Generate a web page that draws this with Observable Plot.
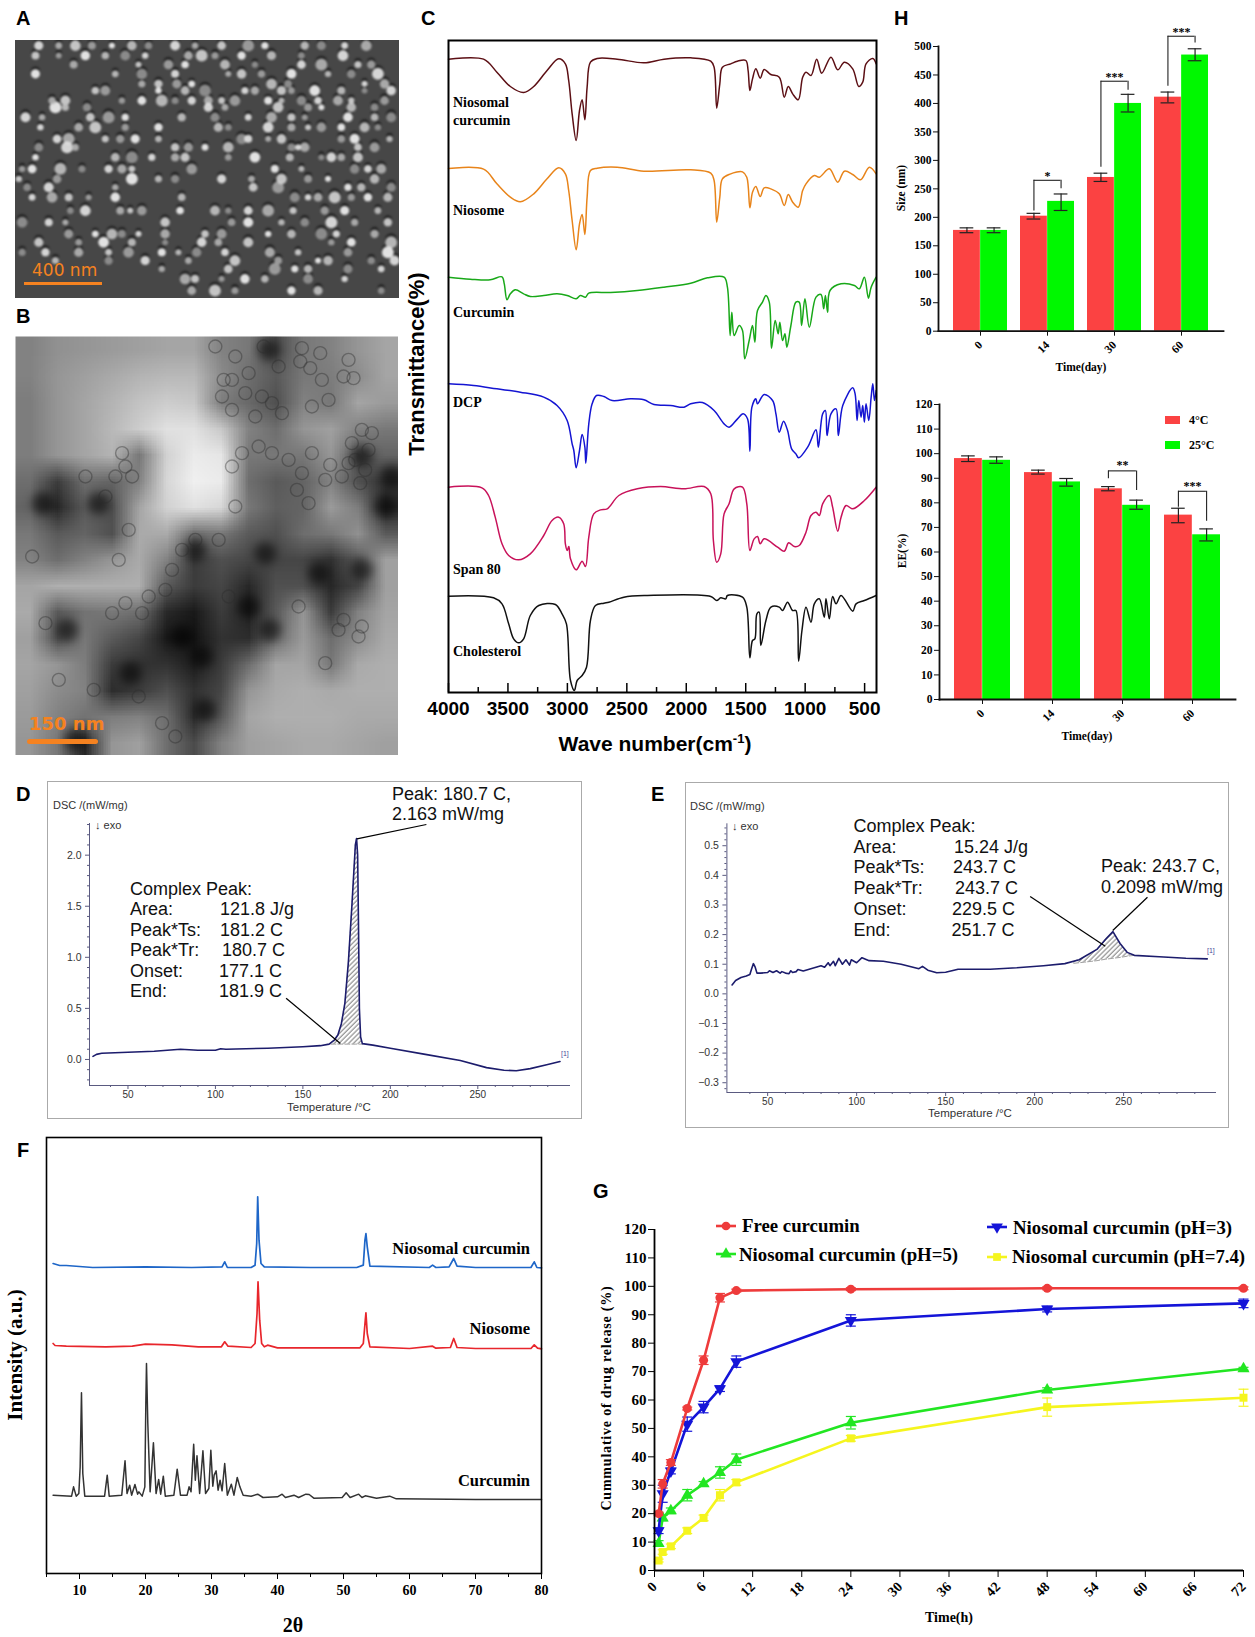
<!DOCTYPE html>
<html>
<head>
<meta charset="utf-8">
<script src="https://cdn.jsdelivr.net/npm/d3@7"></script>
<script src="https://cdn.jsdelivr.net/npm/@observablehq/plot@0.6"></script>
<style>
  body { margin: 0; background: white; }
  #fig { position: relative; width: 1255px; height: 1637px; overflow: hidden; background: white; }
  #fig svg { position: absolute; overflow: visible; }
  .note { position: absolute; white-space: pre; line-height: 1; }
</style>
</head>
<body>
<div id="fig"></div>
<script>
const SERIF = "Liberation Serif";
const SANS = "Liberation Sans";

// --- A: bright particles, [row, [columns]]
const semRows = [
  [15, [70,130,180,230,290,350,400,480,540,620,700,750,870,920,990,1055]],
  [45, [60,130,210,270,330,390,520,560,600,680,770,860,985]],
  [72, [175,370,460,510,630,720,860,920,1030,1070]],
  [100, [60,300,380,480,640,680,740,830,940,1010,1090]],
  [130, [380,430,485,530,770,820,1050,1110]],
  [150, [240,270,430,510,570,690,720,800,830,900,980,1050,1130]],
  [180, [110,150,320,380,440,480,530,580,620,660,760,800,860,910,970,1010,1110]],
  [200, [120,150,215,580,630,790,880,920,1010,1080]],
  [230, [30,80,225,280,330,500,600,700,770,830,870,1000,1080,1130]],
  [260, [75,190,240,330,430,610,640,760,830,880,920,980,1050,1090]],
  [295, [125,160,270,315,360,430,680,700,760,800,980,1020,1125]],
  [320, [70,155,180,480,520,570,640,830,850,870,1030,1080]],
  [350, [60,300,350,410,480,510,640,720,825,920,950,980,1030]],
  [385, [20,50,135,200,280,320,350,530,780,860,1020,1060,1100]],
  [415, [10,125,350,430,480,620,710,800,880,940,1080]],
  [440, [35,100,300,715,790,1000,1040,1130]],
  [470, [50,110,160,220,300,500,840,880,910,960,1010,1060,1120]],
  [510, [165,210,315,345,380,495,600,640,700,760,835,930,990,1090]],
  [545, [20,100,150,450,650,700,800,870,950,1020,1120]],
  [580, [160,240,290,320,370,450,570,620,760,830,920,965,1080]],
  [605, [70,190,265,350,450,560,610,700,950,1010,1130]],
  [635, [20,90,190,280,340,440,490,545,630,765,850,1000,1120]],
  [660, [120,280,390,520,660,790,910,940,1070,1140]],
  [685, [440,640,780,840,880,1000,1100]],
  [715, [510,540,620,690,750,880,990]],
  [750, [530,600,660,830,910,1100]]
];
const semSizes = [4.6,3.4,5.4,4,3,4.8,3.8,5,3.2,4.4,6,3.6,4.2];
const semShades = ["#e4e4e4","#b4b4b4","#d2d2d2","#a4a4a4","#f2f2f2","#c2c2c2","#949494"];

// --- B: coarse gray levels of the TEM image (14 columns, 16 rows), dark cores and vesicle rings
const temCols = 14, temRowsCount = 16;
const temGray = [
  130,145,150,155,160,165,165,130,120,75,120,130,150,165,
  130,150,160,170,180,185,185,140,110,90,120,125,140,165,
  125,150,165,180,195,205,200,125,105,80,130,120,165,155,
  125,150,165,185,205,225,225,200,130,110,150,160,130,120,
  125,150,165,180,120,210,235,230,120,120,120,150,90,100,
  110,60,110,100,130,215,240,235,110,90,100,130,80,50,
  100,40,90,80,165,210,225,215,120,95,100,155,125,40,
  120,90,100,80,170,170,110,120,90,80,110,120,145,90,
  130,110,130,150,170,130,60,80,70,70,70,50,90,160,
  165,175,175,175,175,90,60,70,40,80,80,40,70,160,
  170,90,115,120,110,40,25,60,35,90,150,60,130,165,
  160,80,120,90,70,25,20,50,45,110,155,110,140,170,
  165,150,125,60,50,50,30,60,110,165,165,120,170,175,
  160,140,130,45,60,80,50,70,150,170,175,170,175,175,
  155,130,115,125,130,110,45,90,165,175,175,175,170,170,
  150,120,40,150,160,110,75,130,160,165,170,170,165,160
];
const temDarkCores = [
  [82,500],[500,900],[560,960],[345,1010],[700,810],[765,880],[910,710],[1130,420],[1110,510],
  [180,1210],[570,1120],[540,640],[750,650],[250,500],[760,40],[1040,360],[155,880],[1040,700]
];
const temRings = [
  [600,30],[625,130],[650,130],[620,180],[660,60],[700,110],[790,90],[745,30],[770,200],[800,230],[740,180],[720,240],[690,170],[650,220],
  [860,35],[855,75],[885,95],[915,50],[1000,70],[985,120],[1015,125],[890,210],[940,190],[920,130],
  [1040,280],[1010,320],[1060,340],[1020,370],[945,385],[930,430],[980,420],[1035,440],[890,350],[1070,290],[1000,380],[1050,400],
  [680,350],[650,390],[770,350],[820,370],[860,410],[880,500],[660,510],[730,330],[845,460],
  [320,350],[350,420],[300,420],[340,580],[310,670],[50,660],[330,390],[270,480],[210,420],
  [540,610],[610,610],[470,700],[330,800],[400,780],[850,810],[970,880],[1040,870],[90,860],[130,1030],[235,1060],[370,1080],
  [500,640],[450,760],[640,780],[290,830],[380,830],[985,850],[930,980],[1030,900],[440,1160],[480,1200]
];

// --- C: FTIR traces, [wave number, transmittance in a.u.]
const ftirNiosomalCurcumin = [[4000,1900],[3705,1900],[3593,1861],[3480,1818],[3368,1800],[3283,1818],[3171,1866],[3073,1901],[3017,1886],[2989,1836],[2960,1736],[2926,1656],[2898,1746],[2876,1778],[2853,1718],[2834,1816],[2806,1891],[2750,1902],[2581,1900],[2356,1889],[2187,1900],[1963,1904],[1794,1894],[1766,1876],[1744,1753],[1718,1826],[1696,1876],[1626,1886],[1570,1894],[1499,1896],[1480,1866],[1465,1806],[1443,1841],[1415,1871],[1378,1843],[1345,1869],[1289,1854],[1218,1846],[1176,1786],[1142,1818],[1105,1796],[1058,1778],[1021,1846],[993,1861],[951,1851],[903,1900],[861,1858],[783,1906],[726,1868],[670,1891],[600,1871],[549,1818],[516,1831],[488,1886],[431,1902],[403,1886]];
const ftirNiosome = [[4000,1572],[3705,1570],[3593,1526],[3480,1486],[3396,1472],[3283,1496],[3171,1541],[3073,1574],[3017,1556],[2989,1506],[2960,1416],[2926,1328],[2898,1406],[2876,1434],[2853,1374],[2834,1486],[2806,1566],[2750,1573],[2581,1576],[2356,1564],[1963,1568],[1794,1558],[1766,1536],[1744,1411],[1718,1486],[1696,1541],[1626,1556],[1583,1561],[1527,1562],[1491,1546],[1465,1454],[1443,1501],[1415,1518],[1378,1488],[1345,1514],[1289,1511],[1218,1496],[1176,1461],[1142,1494],[1105,1471],[1058,1456],[1021,1506],[993,1526],[923,1551],[881,1546],[797,1571],[726,1531],[670,1564],[600,1554],[535,1538],[460,1576],[403,1556]];
const ftirCurcumin = [[4000,1246],[3817,1240],[3649,1238],[3550,1247],[3531,1226],[3508,1178],[3480,1196],[3438,1208],[3368,1196],[3312,1188],[3199,1191],[3087,1196],[3002,1191],[2926,1181],[2890,1191],[2848,1186],[2820,1198],[2637,1200],[2412,1206],[2188,1216],[1963,1228],[1822,1244],[1682,1246],[1654,1216],[1631,1071],[1617,1141],[1597,1071],[1555,1101],[1527,1086],[1508,1001],[1471,1056],[1443,1101],[1423,1051],[1401,1146],[1359,1171],[1330,1191],[1302,1171],[1283,1033],[1252,1116],[1227,1076],[1213,1111],[1190,1056],[1170,1076],[1154,1036],[1120,1101],[1078,1171],[1050,1171],[1030,1101],[1002,1181],[965,1096],[909,1186],[867,1194],[844,1151],[830,1191],[811,1141],[791,1206],[698,1226],[586,1221],[544,1211],[502,1246],[468,1183],[445,1216],[403,1246]];
const ftirDCP = [[4000,926],[3789,921],[3593,911],[3396,901],[3199,886],[3087,861],[3002,816],[2960,746],[2946,726],[2926,674],[2898,726],[2876,774],[2853,736],[2845,688],[2820,806],[2792,866],[2755,891],[2693,888],[2623,876],[2469,881],[2356,878],[2272,864],[2131,861],[2019,856],[1963,866],[1864,870],[1766,846],[1682,806],[1640,796],[1569,821],[1522,836],[1485,821],[1465,724],[1448,856],[1415,881],[1401,866],[1345,894],[1274,876],[1246,836],[1218,781],[1182,814],[1148,786],[1114,731],[1078,716],[1055,704],[979,736],[909,788],[889,736],[853,836],[830,846],[816,771],[783,836],[740,851],[721,771],[684,861],[600,914],[580,896],[563,816],[549,876],[530,826],[516,861],[502,811],[488,866],[465,816],[445,886],[431,926],[417,876],[403,906]];
const ftirSpan80 = [[4000,616],[3719,614],[3663,591],[3607,526],[3550,446],[3494,411],[3410,398],[3312,416],[3199,471],[3129,516],[3073,526],[3031,506],[3017,446],[3002,426],[2988,438],[2974,401],[2926,368],[2876,394],[2848,378],[2820,466],[2778,536],[2721,548],[2665,551],[2567,591],[2412,611],[2216,618],[2019,611],[1850,618],[1794,596],[1772,456],[1744,391],[1710,416],[1682,536],[1640,566],[1597,611],[1527,616],[1491,566],[1465,426],[1429,461],[1401,468],[1378,446],[1345,461],[1232,436],[1176,424],[1139,449],[1092,438],[1050,441],[993,481],[951,531],[909,541],[881,531],[853,566],[797,591],[769,556],[726,484],[698,526],[656,561],[600,551],[502,576],[403,616]];
const ftirCholesterol = [[4000,289],[3621,284],[3550,266],[3494,206],[3452,161],[3410,149],[3368,161],[3312,231],[3241,261],[3101,264],[3045,236],[3008,206],[2974,36],[2941,6],[2918,36],[2876,51],[2839,76],[2806,216],[2764,261],[2693,268],[2651,271],[2525,286],[2328,291],[1794,288],[1744,276],[1710,284],[1668,281],[1654,291],[1527,286],[1491,256],[1465,104],[1443,156],[1423,161],[1406,236],[1387,241],[1373,141],[1330,216],[1288,256],[1218,256],[1190,246],[1148,271],[1106,246],[1078,246],[1055,94],[1027,186],[993,256],[951,211],[923,266],[881,281],[839,226],[825,281],[797,221],[769,288],[740,266],[698,291],[600,244],[572,266],[502,276],[403,291]];
const ftirMajorTicks = [4000,3500,3000,2500,2000,1500,1000,500];
const ftirMinorTicks = [3750,3250,2750,2250,1750,1250,750];

// --- D and E: DSC traces, [temperature, heat flow], and hatched peak as [temperature, flow, baseline]
const dscCurveD = [[30,0.03],[32,0.05],[35,0.06],[50,0.07],[65,0.08],[80,0.1],[90,0.09],[100,0.09],[103,0.105],[106,0.1],[130,0.11],[150,0.125],[160,0.135],[165,0.15],[168,0.19],[170,0.24],[172,0.35],[174,0.55],[176,0.95],[178,1.5],[180,2.1],[180.7,2.163],[181.3,2],[181.8,1.3],[182.3,0.5],[183,0.22],[184,0.155],[190,0.14],[200,0.11],[220,0.05],[240,-0.01],[255,-0.08],[265,-0.105],[272,-0.11],[280,-0.09],[290,-0.05],[297,-0.02]];
const dscPeakD = [[166,0.16,0.15],[168,0.19,0.15],[170,0.24,0.15],[172,0.35,0.15],[174,0.55,0.15],[176,0.95,0.15],[178,1.5,0.15],[180,2.1,0.15],[180.7,2.163,0.15],[181.3,2,0.15],[181.8,1.3,0.15],[182.3,0.5,0.15],[183,0.22,0.15],[184,0.155,0.15]];
const dscCurveE = [[30,0.03],[32,0.045],[35,0.055],[38,0.06],[40,0.065],[41,0.085],[42,0.102],[43,0.09],[44,0.07],[46,0.07],[50,0.072],[51,0.078],[53,0.072],[55,0.078],[57,0.07],[58,0.075],[60,0.07],[62,0.068],[63,0.078],[64,0.072],[66,0.075],[67,0.082],[70,0.077],[80,0.095],[82,0.09],[84,0.105],[85,0.095],[87,0.11],[88,0.095],[90,0.12],[92,0.1],[94,0.115],[96,0.097],[97,0.115],[100,0.105],[103,0.122],[107,0.112],[115,0.11],[125,0.1],[135,0.085],[137,0.093],[140,0.08],[145,0.071],[150,0.073],[157,0.083],[175,0.083],[190,0.088],[205,0.095],[217,0.102],[225,0.115],[235,0.15],[240,0.185],[244,0.21],[248,0.17],[252,0.14],[256,0.13],[270,0.125],[285,0.12],[297,0.118]];
const dscPeakE = [[222,0.108,0.103],[228,0.125,0.107],[235,0.15,0.112],[240,0.185,0.117],[244,0.21,0.12],[248,0.17,0.123],[252,0.14,0.127],[256,0.13,0.13]];
const calloutsD = [[180.9,2.16,220.6,2.3],[140.4,0.6,171.4,0.157]];
const calloutsE = [[197.5,0.329,239.7,0.161],[263.4,0.326,243.9,0.214]];

// --- F: XRD patterns, [2 theta, intensity in a.u.]
const xrdNiosomalCurcumin = [[6,930],[7,924],[8,924],[12,918],[20,920],[27,918],[31.6,920],[32,935],[32.4,918],[36,918],[36.6,925],[36.85,990],[37,1130],[37.2,1000],[37.5,930],[38,920],[45,918],[52,918],[53,925],[53.25,1000],[53.4,1020],[53.6,980],[54,922],[63,918],[63.5,925],[64,918],[66,920],[66.7,945],[67.2,922],[70,918],[78.4,918],[78.9,935],[79.3,918],[80,917]];
const xrdNiosome = [[6,690],[6.3,684],[8,682],[14,680],[18,682],[20,688],[24,686],[28,680],[31.5,680],[32,695],[32.5,682],[36,678],[36.6,690],[36.9,780],[37.05,875],[37.3,760],[37.6,690],[38,680],[38.5,685],[40,677],[52.5,677],[53,690],[53.3,760],[53.4,782],[53.6,720],[54,680],[60,675],[63.5,682],[64,676],[66.2,678],[66.7,705],[67.2,678],[70,675],[78.4,675],[78.9,686],[79.4,676],[80,674]];
const xrdCurcumin = [[6,235],[8.8,232],[9.1,260],[9.5,232],[9.9,240],[10.1,320],[10.3,542],[10.5,300],[10.8,232],[13.8,232],[14.2,295],[14.5,232],[16.4,235],[16.9,338],[17.2,240],[17.6,265],[17.9,235],[18.4,267],[18.8,238],[19,245],[19.5,232],[19.9,260],[20.05,510],[20.15,630],[20.35,450],[20.7,245],[21.2,392],[21.6,240],[22,282],[22.3,238],[22.7,292],[23,232],[24.3,235],[24.8,313],[25.3,235],[26.3,235],[26.6,260],[26.9,245],[27.3,388],[27.55,280],[27.8,353],[28.2,240],[28.7,368],[29.1,240],[29.6,255],[29.9,370],[30.2,262],[30.4,295],[30.7,308],[31,250],[31.3,280],[31.6,248],[32,330],[32.4,235],[33,268],[33.4,235],[33.9,288],[34.3,260],[34.8,235],[36,232],[37,238],[37.8,228],[40,230],[40.7,238],[41.2,228],[42.5,235],[43.2,228],[44.3,238],[44.8,237],[45.5,226],[49.8,228],[50.4,242],[51,228],[52.3,238],[52.8,228],[53.3,233],[55,226],[57,232],[58,224],[70,222],[80,222]];
const xrdMajorTicks = [10,20,30,40,50,60,70,80];
const xrdMinorTicks = [5,15,25,35,45,55,65,75];

// --- G: release profile
const releaseHours = [0.5,1,2,4,6,8,10,24,48,72];
const releaseFree = [20,30.5,38,57,74,96,98.5,99,99.3,99.3];
const releaseFreeErr = [0.5,1.5,1,0.5,1.5,1.5,0.5,0.5,0.5,0.5];
const releasePH3 = [14,27,35,51.5,57.5,64,73.5,88,92,94];
const releasePH3Err = [1,3,1,2.5,2,1,2,2,1,1.5];
const releasePH5 = [9.5,18.5,21,26.5,30.5,34.5,39,52,63.5,71];
const releasePH5Err = [1,1,1,2,0.8,2,2,2.2,0.8,0.5];
const releasePH74 = [3.5,6.5,8.5,14,18.5,26.5,31,46.5,57.5,60.8];
const releasePH74Err = [0.5,0.8,0.8,1,1,2,1,1,3.2,3];
const releaseHourTicks = [0,6,12,18,24,30,36,42,48,54,60,66,72];
const releasePercentTicks = [0,10,20,30,40,50,60,70,80,90,100,110,120];

// --- H: stability bars
const days = ["0","14","30","60"];
const size4C = [177,202,270,411];
const size4CLow = [173,197,263,401];
const size4CHigh = [181.5,207,277.5,420];
const size25C = [177,228,400,485];
const size25CLow = [173,212,385,475];
const size25CHigh = [181.5,241,416,496];
const sizeTicks = [0,50,100,150,200,250,300,350,400,450,500];
const sizeBrackets = [
  {day:"14", a:211, top:265, b:250, stars:"*", starY:275},
  {day:"30", a:288, top:439, b:423, stars:"***", starY:449},
  {day:"60", a:430, top:518, b:506, stars:"***", starY:528}
];
const ee4C = [98,92.3,85.7,75];
const ee4CLow = [96.8,91.7,84.9,71.9];
const ee4CHigh = [99.1,93.3,86.6,77.8];
const ee25C = [97.3,88.5,79,67];
const ee25CLow = [96.1,86.8,77.4,64.5];
const ee25CHigh = [98.7,89.9,81.1,69.4];
const eeTicks = [0,10,20,30,40,50,60,70,80,90,100,110,120];
const eeBrackets = [
  {day:"30", a:89.8, top:93, b:85, stars:"**", starY:96.2},
  {day:"60", a:78.2, top:84.7, b:72.5, stars:"***", starY:87.7}
];

const fig = document.getElementById("fig");

function place(plot, left, top) {
  plot.style.left = left + "px";
  plot.style.top = top + "px";
  plot.style.background = "transparent";
  plot.style.maxWidth = "none";
  fig.append(plot);
  return plot;
}

// free text placed on the page, y is the vertical centre
function note(html, x, y, o = {}) {
  const div = document.createElement("div");
  div.className = "note";
  div.innerHTML = html;
  const ax = o.anchor === "middle" ? "-50%" : o.anchor === "end" ? "-100%" : "0";
  div.style.cssText = `left:${x}px;top:${y}px;font-family:'${o.family || SANS}';font-size:${o.size || 12}px;` +
    `font-weight:${o.weight || "normal"};color:${o.color || "#000"};` +
    `transform:translate(${ax},-50%)${o.rotate ? ` rotate(${o.rotate}deg)` : ""};` +
    `${o.extra || ""}`;
  fig.append(div);
}

function box(x, y, w, h, css) {
  const div = document.createElement("div");
  div.style.cssText = `position:absolute;left:${x}px;top:${y}px;width:${w}px;height:${h}px;box-sizing:border-box;${css}`;
  fig.append(div);
}

// hatch for the integrated DSC peaks
const defs = d3.select(fig).append("svg").attr("width", 0).attr("height", 0);
defs.append("pattern").attr("id", "hatch").attr("width", 3.4).attr("height", 3.4)
  .attr("patternUnits", "userSpaceOnUse").attr("patternTransform", "rotate(-45)")
  .append("line").attr("x1", 0).attr("x2", 3.4).attr("y1", 1).attr("y2", 1)
  .attr("stroke", "#777").attr("stroke-width", 1);

// ---------- A
const semDots = semRows.flatMap(([y, xs]) => xs.map((x) => ({x, y})))
  .map((d, i) => ({...d, r: semSizes[i % semSizes.length], shade: semShades[i % semShades.length]}));
box(15, 40, 384, 258, "background:#474747");
place(Plot.plot({
  width: 384, height: 258, margin: 0,
  x: {domain: [0, 1155], axis: null},
  y: {domain: [774, 0], axis: null},
  r: {type: "identity"},
  color: {type: "identity"},
  marks: [
    Plot.dot(semDots, {x: "x", y: "y", dy: -2.8, r: "r", fill: "#0c0c0c", fillOpacity: 0.6, imageFilter: "blur(1.2px)"}),
    Plot.dot(semDots, {x: "x", y: "y", r: "r", fill: "shade", fillOpacity: 0.92, imageFilter: "blur(0.9px)"})
  ]
}), 15, 40).style.overflow = "hidden";
note("400 nm", 32, 270, {family: "DejaVu Sans", size: 17, color: "#f58220"});
box(24, 282, 78, 3, "background:#f58220");

// ---------- B
place(Plot.plot({
  width: 383, height: 419, margin: 0,
  x: {domain: [0, 1150], axis: null},
  y: {domain: [1257, 0], axis: null},
  color: {type: "linear", domain: [0, 255], range: ["#000", "#fff"]},
  marks: [
    Plot.raster(temGray, {width: temCols, height: temRowsCount, x1: 0, x2: 1150, y1: 0, y2: 1257, imageRendering: "auto"}),
    Plot.dot(temDarkCores, {x: "0", y: "1", r: 11, fill: "#000", fillOpacity: 0.55, imageFilter: "blur(5px)"}),
    Plot.dot(temRings, {x: "0", y: "1", r: 6.5, stroke: "#2c2c2c", strokeOpacity: 0.4, strokeWidth: 1.4, imageFilter: "blur(0.5px)"})
  ]
}), 15, 336).style.overflow = "hidden";
note("150 nm", 29, 724, {family: "DejaVu Sans", size: 18, color: "#f58220", weight: "bold"});
box(27, 739, 71, 5, "background:#f58220;border-radius:3px");

// ---------- C
const ftirSeries = [
  [ftirNiosomalCurcumin, "#5c0f14"],
  [ftirNiosome, "#e8841a"],
  [ftirCurcumin, "#18a818"],
  [ftirDCP, "#1414d2"],
  [ftirSpan80, "#c8125a"],
  [ftirCholesterol, "#111111"]
];
place(Plot.plot({
  width: 460, height: 740,
  marginLeft: 28, marginRight: 4, marginTop: 10, marginBottom: 78,
  x: {domain: [4000, 400]},
  y: {domain: [0, 1956], axis: null},
  marks: [
    ...ftirSeries.map(([rows, color]) => Plot.line(rows, {x: "0", y: "1", stroke: color, strokeWidth: 1.5, curve: "catmull-rom"})),
    Plot.ruleX(ftirMajorTicks, {y1: 0, y2: 27, stroke: "#000", strokeWidth: 1.5}),
    Plot.ruleX(ftirMinorTicks, {y1: 0, y2: 15, stroke: "#000", strokeWidth: 1.5}),
    Plot.frame({stroke: "#000", strokeWidth: 2}),
    Plot.axisX(ftirMajorTicks, {
      tickSize: 0, tickPadding: 9, tickFormat: "d", label: null,
      fontSize: 19, fontWeight: "bold", fontFamily: SANS, fill: "#000"
    })
  ]
}), 420, 30);
const ftirLabel = {family: SERIF, weight: "bold", size: 14};
note("Niosomal", 453, 103, ftirLabel);
note("curcumin", 453, 121, ftirLabel);
note("Niosome", 453, 211, ftirLabel);
note("Curcumin", 453, 313, ftirLabel);
note("DCP", 453, 403, ftirLabel);
note("Span 80", 453, 570, ftirLabel);
note("Cholesterol", 453, 652, ftirLabel);
note("Transmittance(%)", 417, 364, {anchor: "middle", weight: "bold", size: 22, rotate: -90});
note("Wave number(cm<sup style='font-size:13px;line-height:0'>-1</sup>)", 655, 743, {anchor: "middle", weight: "bold", size: 21});

// ---------- D and E
function dscPlot({xDomain, yDomain, yLabels, yMinor, curve, peak, callouts, width, height, margins}) {
  return Plot.plot({
    width, height, ...margins,
    x: {domain: xDomain},
    y: {domain: yDomain},
    marks: [
      Plot.areaY(peak, {x: "0", y1: "1", y2: "2", fill: "url(#hatch)"}),
      Plot.line(peak, {x: "0", y: "2", stroke: "#888", strokeWidth: 0.8, strokeDasharray: "5 2"}),
      Plot.line(curve, {x: "0", y: "1", stroke: "#1c1c6c", strokeWidth: 1.6}),
      Plot.link(callouts, {x1: "0", y1: "1", x2: "2", y2: "3", stroke: "#000", strokeWidth: 1.2}),
      Plot.ruleX([xDomain[0]], {stroke: "#5a5a80"}),
      Plot.ruleY([yDomain[0]], {stroke: "#5a5a80"}),
      Plot.axisY(yLabels, {tickSize: 4, tickPadding: 4, label: null, fontSize: 10.5, fontFamily: SANS, fill: "#333", stroke: "#5a5a80", tickFormat: ".1f"}),
      Plot.axisY(yMinor, {tickSize: 2, text: null, label: null, stroke: "#5a5a80"}),
      Plot.axisX([50,100,150,200,250], {tickSize: 4, tickPadding: 1, label: null, fontSize: 10, fontFamily: SANS, fill: "#333", stroke: "#5a5a80"}),
      Plot.axisX([40,60,70,80,90,110,120,130,140,160,170,180,190,210,220,230,240,260,270,280,290], {tickSize: 2, text: null, label: null, stroke: "#5a5a80"})
    ]
  });
}

box(47, 781, 535, 338, "border:1.5px solid #aaa");
place(dscPlot({
  xDomain: [28, 303], yDomain: [-0.255, 2.31],
  yLabels: [0,0.5,1,1.5,2],
  yMinor: [-0.2,-0.1,0.1,0.2,0.3,0.4,0.6,0.7,0.8,0.9,1.1,1.2,1.3,1.4,1.6,1.7,1.8,1.9,2.1,2.2,2.3],
  curve: dscCurveD, peak: dscPeakD, callouts: calloutsD,
  width: 535, height: 338,
  margins: {marginLeft: 42, marginRight: 12, marginTop: 42, marginBottom: 34}
}), 47, 781);
const dscText = {size: 18, color: "#111"};
note("DSC /(mW/mg)", 53, 805, {size: 11, color: "#333"});
note("↓ exo", 95, 825, {size: 11, color: "#333"});
note("Temperature /°C", 329, 1107.5, {size: 11.5, color: "#333", anchor: "middle"});
note("[1]", 561, 1053, {size: 7, color: "#4a4a9a"});
note("Peak: 180.7 C,", 392, 794, dscText);
note("2.163 mW/mg", 392, 814, dscText);
[["Complex Peak:", 889, ""], ["Area:", 909, "121.8 J/g", 220], ["Peak*Ts:", 930, "181.2 C", 220],
 ["Peak*Tr:", 950, "180.7 C", 222], ["Onset:", 971, "177.1 C", 219], ["End:", 991, "181.9 C", 219]].forEach(([a, y, b, x]) => {
  note(a, 130, y, dscText);
  if (b) note(b, x, y, dscText);
});

box(685, 782, 544, 346, "border:1.5px solid #aaa");
place(dscPlot({
  xDomain: [27.1, 302.2], yDomain: [-0.333, 0.574],
  yLabels: [-0.3,-0.2,-0.1,0,0.1,0.2,0.3,0.4,0.5],
  yMinor: [-0.32,-0.28,-0.26,-0.24,-0.22,-0.18,-0.16,-0.14,-0.12,-0.08,-0.06,-0.04,-0.02,0.02,0.04,0.06,0.08,0.12,0.14,0.16,0.18,0.22,0.24,0.26,0.28,0.32,0.34,0.36,0.38,0.42,0.44,0.46,0.48,0.52,0.54,0.56],
  curve: dscCurveE, peak: dscPeakE, callouts: calloutsE,
  width: 544, height: 346,
  margins: {marginLeft: 41.4, marginRight: 13, marginTop: 41.3, marginBottom: 36}
}), 685, 782);
note("DSC /(mW/mg)", 690, 806, {size: 11, color: "#333"});
note("↓ exo", 732, 826, {size: 11, color: "#333"});
note("Temperature /°C", 970, 1114, {size: 11.5, color: "#333", anchor: "middle"});
note("[1]", 1207, 950, {size: 7, color: "#4a4a9a"});
note("Peak: 243.7 C,", 1101, 866, dscText);
note("0.2098 mW/mg", 1101, 887, dscText);
[["Complex Peak:", 826, ""], ["Area:", 847, "15.24 J/g", 954], ["Peak*Ts:", 867, "243.7 C", 953],
 ["Peak*Tr:", 888, "243.7 C", 955], ["Onset:", 909, "229.5 C", 952], ["End:", 930, "251.7 C", 951.5]].forEach(([a, y, b, x]) => {
  note(a, 853.5, y, dscText);
  if (b) note(b, x, y, dscText);
});

// ---------- F
place(Plot.plot({
  width: 520, height: 510,
  marginLeft: 20, marginRight: 5, marginTop: 10, marginBottom: 64,
  x: {domain: [5, 80]},
  y: {domain: [0, 1308], axis: null},
  marks: [
    Plot.line(xrdCurcumin, {x: "0", y: "1", stroke: "#333", strokeWidth: 1.5}),
    Plot.line(xrdNiosome, {x: "0", y: "1", stroke: "#e8262c", strokeWidth: 1.7}),
    Plot.line(xrdNiosomalCurcumin, {x: "0", y: "1", stroke: "#1e66c8", strokeWidth: 1.7}),
    Plot.frame({stroke: "#000", strokeWidth: 1.6}),
    Plot.axisX(xrdMajorTicks, {tickSize: 6, tickPadding: 6, label: null, fontSize: 14, fontWeight: "bold", fontFamily: SERIF, fill: "#000", stroke: "#000"}),
    Plot.axisX(xrdMinorTicks, {tickSize: 4, text: null, label: null, stroke: "#000"})
  ]
}), 26, 1127);
const xrdLabel = {family: SERIF, weight: "bold", size: 16.5, anchor: "end"};
note("Niosomal curcumin", 530, 1249, xrdLabel);
note("Niosome", 530, 1329, xrdLabel);
note("Curcumin", 530, 1481, xrdLabel);
note("Intensity (a.u.)", 14.5, 1355, {family: SERIF, weight: "bold", size: 21, anchor: "middle", rotate: -90});
note("2θ", 293, 1625, {family: SERIF, weight: "bold", size: 20, anchor: "middle"});

// ---------- G
const capSymbol = {draw(c) { c.moveTo(-5, 0); c.lineTo(5, 0); }};
const releaseSeries = [
  {values: releaseFree, err: releaseFreeErr, color: "#ee3b3b", symbol: "circle", r: 4.5, rotate: 0},
  {values: releasePH3, err: releasePH3Err, color: "#1414d8", symbol: "triangle", r: 4.5, rotate: 180},
  {values: releasePH5, err: releasePH5Err, color: "#22e622", symbol: "triangle", r: 4.5, rotate: 0},
  {values: releasePH74, err: releasePH74Err, color: "#f5f51e", symbol: "square", r: 4.5, rotate: 0}
];
const releaseMarks = [...releaseSeries].reverse().flatMap((s) => {
  const rows = releaseHours.map((t, i) => ({t, v: s.values[i], lo: s.values[i] - s.err[i], hi: s.values[i] + s.err[i]}));
  return [
    Plot.ruleX(rows, {x: "t", y1: "lo", y2: "hi", stroke: s.color, strokeWidth: 1.2}),
    Plot.dot(rows, {x: "t", y: "lo", symbol: capSymbol, stroke: s.color, strokeWidth: 1.2}),
    Plot.dot(rows, {x: "t", y: "hi", symbol: capSymbol, stroke: s.color, strokeWidth: 1.2}),
    Plot.line(rows, {x: "t", y: "v", stroke: s.color, strokeWidth: 2.6}),
    Plot.dot(rows, {x: "t", y: "v", symbol: s.symbol, r: s.r, rotate: s.rotate, fill: s.color})
  ];
});
place(Plot.plot({
  width: 650, height: 422,
  marginLeft: 54, marginRight: 7, marginTop: 14, marginBottom: 67,
  x: {domain: [0, 72]},
  y: {domain: [0, 120]},
  marks: [
    ...releaseMarks,
    Plot.ruleX([0], {stroke: "#000", strokeWidth: 1.8}),
    Plot.ruleY([0], {stroke: "#000", strokeWidth: 1.8}),
    Plot.axisY(releasePercentTicks, {tickSize: 6, tickPadding: 2, label: null, fontSize: 15, fontWeight: "bold", fontFamily: SERIF, fill: "#000", stroke: "#000"}),
    Plot.axisX(releaseHourTicks, {tickSize: 7, tickPadding: 7, tickRotate: -45, label: null, fontSize: 14, fontWeight: "bold", fontFamily: SERIF, fill: "#000", stroke: "#000"})
  ]
}), 600, 1215);
note("Cummulative of drug release (%)", 607, 1398, {family: SERIF, weight: "bold", size: 14, anchor: "middle", rotate: -90, extra: "letter-spacing:0.8px;"});
note("Time(h)", 949, 1618, {family: SERIF, weight: "bold", size: 14, anchor: "middle"});

function swatch(x, y, color, type, flip) {
  const g = d3.select(fig).append("svg").attr("width", 24).attr("height", 12)
    .style("left", (x - 12) + "px").style("top", (y - 6) + "px");
  g.append("line").attr("x1", 2).attr("x2", 22).attr("y1", 6).attr("y2", 6).attr("stroke", color).attr("stroke-width", 2.6);
  g.append("path").attr("d", d3.symbol(type, 60)()).attr("fill", color)
    .attr("transform", `translate(12,6)${flip ? " rotate(180)" : ""}`);
}
const releaseLegend = {family: SERIF, weight: "bold", size: 18.8};
swatch(726, 1226, "#ee3b3b", d3.symbolCircle);
note("Free curcumin", 742, 1226, releaseLegend);
swatch(726, 1254, "#22e622", d3.symbolTriangle);
note("Niosomal curcumin (pH=5)", 739, 1255, releaseLegend);
swatch(997, 1227, "#1414d8", d3.symbolTriangle, true);
note("Niosomal curcumin (pH=3)", 1013, 1228, releaseLegend);
swatch(997, 1257, "#f5f51e", d3.symbolSquare);
note("Niosomal curcumin (pH=7.4)", 1012, 1257, releaseLegend);

// ---------- H
const RED = "#fb4242", GREEN = "#00f800";
function barPlot({rowsA, rowsB, brackets, yDomain, yTicks, width, height, margins}) {
  const half = (width - margins.marginLeft - margins.marginRight) / 4.2 * 0.4;
  const capInset = half / 2 - 7;
  const errors = (rows, dx) => [
    Plot.ruleX(rows, {x: "day", y1: "low", y2: "high", dx, stroke: "#222", strokeWidth: 1.2}),
    Plot.tickY(rows, {x: "day", y: "low", insetLeft: dx < 0 ? capInset : half + capInset, insetRight: dx < 0 ? half + capInset : capInset, stroke: "#222", strokeWidth: 1.2}),
    Plot.tickY(rows, {x: "day", y: "high", insetLeft: dx < 0 ? capInset : half + capInset, insetRight: dx < 0 ? half + capInset : capInset, stroke: "#222", strokeWidth: 1.2})
  ];
  return Plot.plot({
    width, height, ...margins,
    x: {type: "band", domain: days, padding: 0.2},
    y: {domain: yDomain},
    marks: [
      Plot.barY(rowsA, {x: "day", y: "value", insetRight: half, fill: RED}),
      Plot.barY(rowsB, {x: "day", y: "value", insetLeft: half, fill: GREEN}),
      ...errors(rowsA, -half / 2),
      ...errors(rowsB, half / 2),
      Plot.ruleX(brackets, {x: "day", y1: "a", y2: "top", dx: -half / 2, stroke: "#222", strokeWidth: 1.1}),
      Plot.ruleX(brackets, {x: "day", y1: "b", y2: "top", dx: half / 2, stroke: "#222", strokeWidth: 1.1}),
      Plot.tickY(brackets, {x: "day", y: "top", insetLeft: half / 2, insetRight: half / 2, stroke: "#222", strokeWidth: 1.1}),
      Plot.text(brackets, {x: "day", y: "starY", text: "stars", fontSize: 12, fontWeight: "bold", fontFamily: SERIF, dy: 2}),
      Plot.frame({anchor: "left", stroke: "#111", strokeWidth: 1.8}),
      Plot.frame({anchor: "bottom", stroke: "#111", strokeWidth: 1.8}),
      Plot.axisY(yTicks, {tickSize: 5, tickPadding: 2, label: null, fontSize: 11.5, fontWeight: "bold", fontFamily: SERIF, fill: "#000", stroke: "#111", tickFormat: "d"}),
      Plot.axisX({tickSize: 5, tickPadding: 7, tickRotate: -45, label: null, fontSize: 11.5, fontWeight: "bold", fontFamily: SERIF, fill: "#000", stroke: "#111"})
    ]
  });
}
const makeRows = (value, low, high) => days.map((day, i) => ({day, value: value[i], low: low[i], high: high[i]}));
place(barPlot({
  rowsA: makeRows(size4C, size4CLow, size4CHigh),
  rowsB: makeRows(size25C, size25CLow, size25CHigh),
  brackets: sizeBrackets, yDomain: [0, 500], yTicks: sizeTicks,
  width: 345, height: 355,
  margins: {marginLeft: 58, marginRight: 2, marginTop: 26, marginBottom: 44.3}
}), 880, 20);
place(barPlot({
  rowsA: makeRows(ee4C, ee4CLow, ee4CHigh),
  rowsB: makeRows(ee25C, ee25CLow, ee25CHigh),
  brackets: eeBrackets, yDomain: [0, 120], yTicks: eeTicks,
  width: 357, height: 345,
  margins: {marginLeft: 59, marginRight: 2, marginTop: 10, marginBottom: 40}
}), 880, 394);
const barTitle = {family: SERIF, weight: "bold", size: 11.5, anchor: "middle"};
note("Size (nm)", 902, 188, {...barTitle, rotate: -90});
note("Time(day)", 1081, 368, barTitle);
note("EE(%)", 903, 551, {...barTitle, rotate: -90});
note("Time(day)", 1087, 737, barTitle);
box(1165, 416, 15, 7.5, `background:${RED}`);
box(1165, 441, 15, 7.5, `background:${GREEN}`);
const barLegend = {family: SERIF, weight: "bold", size: 12};
note("4°C", 1189, 420, barLegend);
note("25°C", 1189, 445, barLegend);

// ---------- panel letters
const letter = {weight: "bold", size: 20};
note("A", 16, 18, letter);
note("B", 16, 316, letter);
note("C", 421, 18, letter);
note("H", 894, 18, letter);
note("D", 16, 794, letter);
note("E", 651, 794, letter);
note("F", 17, 1150, letter);
note("G", 593, 1191, letter);
</script>
</body>
</html>
